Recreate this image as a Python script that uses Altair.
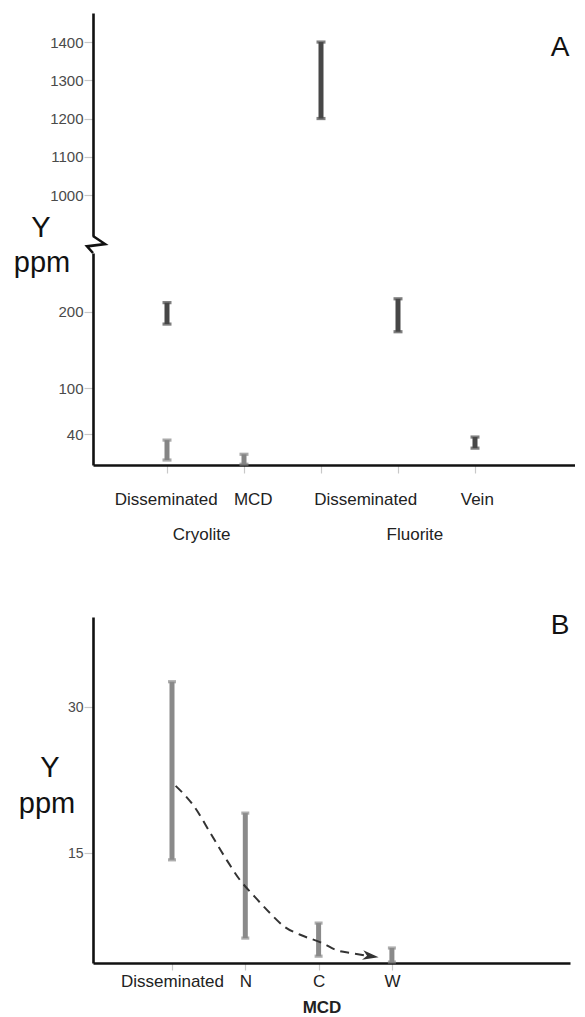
import altair as alt
import pandas as pd

FONT = "Liberation Sans"

# ---------------- Panel A data ----------------
a_pos = [1, 1, 2, 3, 4, 5]
a_low = [184, 6.5, 1, 1200, 174, 22]
a_high = [212, 32.5, 14, 1400, 217, 36.5]
a_shade = ["dark", "light", "light", "dark", "dark", "dark"]

a_upper_ticks = [1000, 1100, 1200, 1300, 1400]
a_lower_ticks = [40, 100, 200]
a_cat_ticks = [1, 2, 3, 4, 5]

a_sub_labels = ["Disseminated", "MCD", "Disseminated", "Vein"]
a_sub_x = [0.99, 2.12, 3.58, 5.03]
a_group_labels = ["Cryolite", "Fluorite"]
a_group_x = [1.45, 4.22]

# axis break zig-zag (in lower-panel data units)
zz_x = [0.039, 0.195, -0.039, 0.039]
zz_y = [299, 288.5, 285.5, 276.8]

# ---------------- Panel B data ----------------
b_cat = ["Disseminated", "N", "C", "W"]
b_pos = [1, 2, 3, 4]
b_low = [14.3, 6.26, 4.4, 3.8]
b_high = [32.6, 19.1, 7.8, 5.24]
b_ticks = [15, 30]

curve_x = [1.05, 1.31, 1.52, 1.72, 1.93, 2.13, 2.34, 2.54, 2.75, 3.05, 3.25, 3.46, 3.62]
curve_y = [21.9, 19.7, 17.1, 14.6, 12.2, 10.5, 8.8, 7.4, 6.6, 5.75, 5.0, 4.7, 4.5]
arrow_x = [3.71]
arrow_y = [4.4]

# ---------------- tables ----------------
dfa = pd.DataFrame({"pos": a_pos, "low": a_low, "high": a_high, "shade": a_shade})
dfa_up = dfa[dfa["low"] >= 1000]
dfa_lo = dfa[dfa["low"] < 1000]
df_sub = pd.DataFrame({"x": a_sub_x, "t": a_sub_labels})
df_grp = pd.DataFrame({"x": a_group_x, "t": a_group_labels})
df_zz = pd.DataFrame({"x": zz_x, "y": zz_y, "o": list(range(len(zz_x)))})

dfb = pd.DataFrame({"pos": b_pos, "low": b_low, "high": b_high, "cat": b_cat})
df_curve = pd.DataFrame({"x": curve_x, "y": curve_y})
df_arrow = pd.DataFrame({"x": arrow_x, "y": arrow_y})

W = 482
XA = [0.039, 1 + (575 - 167) / 77]
UP_DOM = [892.8, 1476]
LO_DOM = [0, 276.8]
shade_scale = alt.Scale(domain=["dark", "light"], range=["#474747", "#858585"])

yaxis_common = dict(
    domainColor="#111", domainWidth=2.6, tickColor="#c8c8c8", tickSize=9, tickWidth=1.2,
    labelFont=FONT, labelFontSize=15, labelColor="#4a4a4a", labelPadding=1, grid=False, title=None,
    format="d",
)


def errbars(df, xscale, yscale, yaxis, xaxis, colorenc, width=5, cap=9):
    x = alt.X("pos:Q", scale=xscale, axis=xaxis)
    rule = alt.Chart(df).mark_rule(strokeWidth=width).encode(
        x=x, y=alt.Y("low:Q", scale=yscale, axis=yaxis), y2="high:Q", color=colorenc)
    lo = alt.Chart(df).mark_tick(orient="horizontal", size=cap, thickness=3.2).encode(
        x=x, y=alt.Y("low:Q"), color=colorenc)
    hi = alt.Chart(df).mark_tick(orient="horizontal", size=cap, thickness=3.2).encode(
        x=x, y=alt.Y("high:Q"), color=colorenc)
    return rule + lo + hi


colA = alt.Color("shade:N", scale=shade_scale, legend=None)

# ---- A upper ----
a_up = errbars(
    dfa_up,
    alt.Scale(domain=XA, nice=False, zero=False),
    alt.Scale(domain=UP_DOM, nice=False, zero=False),
    alt.Axis(values=a_upper_ticks, **yaxis_common),
    None, colA,
)
a_label = alt.Chart(pd.DataFrame({"t": ["A"]})).mark_text(
    font=FONT, fontSize=28, color="#111", baseline="middle", align="center"
).encode(x=alt.value(467), y=alt.value(35), text="t:N")
a_up = (a_up + a_label).properties(width=W, height=223)

# ---- A lower ----
xaxisA = alt.Axis(values=a_cat_ticks, labels=False, title=None, domainColor="#111", domainWidth=2.6,
                  tickColor="#c8c8c8", tickSize=8, tickWidth=1.2, grid=False)
a_lo = errbars(
    dfa_lo,
    alt.Scale(domain=XA, nice=False, zero=False),
    alt.Scale(domain=LO_DOM, nice=False, zero=False),
    alt.Axis(values=a_lower_ticks, **yaxis_common),
    xaxisA, colA,
)
zz = alt.Chart(df_zz).mark_line(clip=False, color="#111", strokeWidth=2.6, strokeJoin="miter").encode(
    x="x:Q", y="y:Q", order="o:Q")
sub = alt.Chart(df_sub).mark_text(font=FONT, fontSize=17, color="#222", baseline="middle").encode(
    x="x:Q", y=alt.value(247), text="t:N")
grp = alt.Chart(df_grp).mark_text(font=FONT, fontSize=17, color="#222", baseline="middle").encode(
    x="x:Q", y=alt.value(282), text="t:N")
yA1 = alt.Chart(pd.DataFrame({"t": ["Y"]})).mark_text(
    font=FONT, fontSize=29, color="#111", baseline="alphabetic").encode(
    x=alt.value(-52), y=alt.value(-16), text="t:N")
yA2 = alt.Chart(pd.DataFrame({"t": ["ppm"]})).mark_text(
    font=FONT, fontSize=29, color="#111", baseline="alphabetic").encode(
    x=alt.value(-51), y=alt.value(19), text="t:N")
a_lo = (a_lo + zz + sub + grp + yA1 + yA2).properties(width=W, height=212)

# ---- spacer between panels ----
spacer = alt.Chart(pd.DataFrame({"v": [0]})).mark_point(opacity=0).encode(
    x=alt.X("v:Q", axis=None), y=alt.Y("v:Q", axis=None)).properties(width=W, height=118)

# ---- B ----
XB = [1 - 79 / 73.3, 1 + (570 - 172) / 73.3]
YB = [3.7, 39.25]
label_expr = "[" + ",".join("'" + c + "'" for c in b_cat) + "][datum.value - 1]"
xaxisB = alt.Axis(values=b_pos, labelExpr=label_expr, title=None, domainColor="#111", domainWidth=2.6,
                  tickColor="#c8c8c8", tickSize=7, tickWidth=1.2, grid=False,
                  labelFont=FONT, labelFontSize=17, labelColor="#222", labelPadding=3)
yaxisB = alt.Axis(values=b_ticks, **{**yaxis_common, "labelFontSize": 14})
colB = alt.value("#8a8a8a")
b_bars = errbars(dfb, alt.Scale(domain=XB, nice=False, zero=False),
                 alt.Scale(domain=YB, nice=False, zero=False), yaxisB, xaxisB, colB, width=5, cap=8)
curve = alt.Chart(df_curve).mark_line(
    interpolate="monotone", color="#333", strokeWidth=2, strokeDash=[9, 6]).encode(x="x:Q", y="y:Q")
arrow = alt.Chart(df_arrow).mark_point(
    shape="M -1 -0.6 L 1 0 L -1 0.6 L -0.45 0 Z", filled=True, size=260, color="#333", opacity=1,
    angle=8).encode(x="x:Q", y="y:Q")
b_label = alt.Chart(pd.DataFrame({"t": ["B"]})).mark_text(
    font=FONT, fontSize=28, color="#111", baseline="middle").encode(
    x=alt.value(467), y=alt.value(9), text="t:N")
mcd = alt.Chart(pd.DataFrame({"t": ["MCD"]})).mark_text(
    font=FONT, fontSize=17, fontWeight="bold", color="#222", baseline="middle").encode(
    x=alt.value(229), y=alt.value(391), text="t:N")
yB1 = alt.Chart(pd.DataFrame({"t": ["Y"]})).mark_text(
    font=FONT, fontSize=29, color="#111", baseline="alphabetic").encode(
    x=alt.value(-43), y=alt.value(160), text="t:N")
yB2 = alt.Chart(pd.DataFrame({"t": ["ppm"]})).mark_text(
    font=FONT, fontSize=29, color="#111", baseline="alphabetic").encode(
    x=alt.value(-46), y=alt.value(196), text="t:N")
b_chart = (b_bars + curve + arrow + b_label + mcd + yB1 + yB2).properties(width=477, height=346)

chart = alt.vconcat(a_up, a_lo, spacer, b_chart, spacing=17, bounds="flush").properties(
    padding={"left": 5, "top": 5, "right": 0, "bottom": 0},
    background="white",
).configure_view(stroke="transparent", strokeWidth=0)

chart.save("out.html", embed_options={"renderer": "svg", "actions": False})
